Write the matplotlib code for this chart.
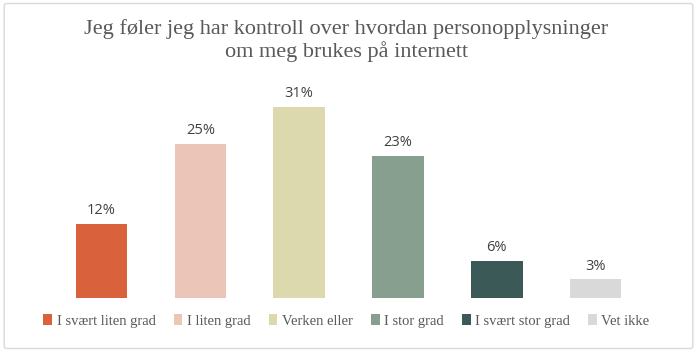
import matplotlib.pyplot as plt
from matplotlib.patches import Patch, FancyBboxPatch

categories = ['I svært liten grad', 'I liten grad', 'Verken eller',
              'I stor grad', 'I svært stor grad', 'Vet ikke']
values = [12, 25, 31, 23, 6, 3]
colors = ['#D9623C', '#EBC6B8', '#DDD9AE', '#879F8F', '#3B5956', '#D9D9D9']
title = 'Jeg føler jeg har kontroll over hvordan personopplysninger\nom meg brukes på internett'

fig = plt.figure(figsize=(6.97, 3.52), dpi=100)
fig.patch.set_facecolor('white')

# grey frame round the whole chart
frame = FancyBboxPatch((0.006, 0.01), 0.988, 0.98, boxstyle='round,pad=0,rounding_size=0.005',
                       transform=fig.transFigure, facecolor='none', edgecolor='#D9D9D9', lw=1)
fig.patches.append(frame)

ax = fig.add_axes([0.0746, 0.1534, 0.851, 0.614])
x = range(len(values))
bars = ax.bar(x, values, width=0.52, color=colors)
for i, v in enumerate(values):
    ax.text(i, v + 0.9, f'{v}%', ha='center', va='bottom', fontsize=10.5,
            color='#404040', family='Open Sans')

ax.set_xlim(-0.5, len(values) - 0.5)
ax.set_ylim(0, 35)
ax.axis('off')

fig.text(0.497, 0.885, title, ha='center', va='center', fontsize=16,
         color='#595959', family='Liberation Serif', linespacing=1.15)

handles = [Patch(facecolor=c, edgecolor='none') for c in colors]
fig.legend(handles, categories, loc='center', bbox_to_anchor=(0.497, 1 - 321 / 352),
           ncol=6, frameon=False, handlelength=0.6, handleheight=0.8,
           handletextpad=0.3, columnspacing=1.25,
           prop={'family': 'Liberation Serif', 'size': 10.5}, labelcolor='#595959')

fig.savefig('out.png', dpi=100)
